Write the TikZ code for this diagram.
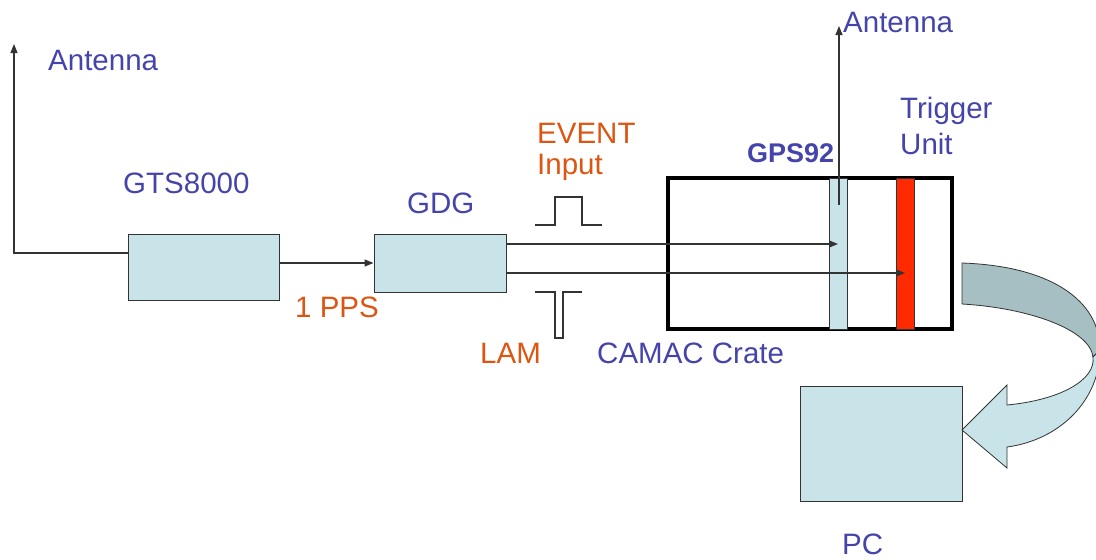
\documentclass[tikz,border=0pt]{standalone}
\usepackage{fontspec}
\setmainfont{Liberation Sans}
\usetikzlibrary{arrows.meta,calc}
\definecolor{boxblue}{HTML}{C8E4E8}
\definecolor{darkband}{HTML}{A6BFC2}
\definecolor{txtblue}{HTML}{4444AA}
\definecolor{txtorange}{HTML}{DD5511}
\definecolor{cardred}{HTML}{FF2A00}
\definecolor{wire}{HTML}{333333}
\begin{document}
\begin{tikzpicture}[x=1pt,y=-1pt,
  unit/.style={draw=wire,line width=1pt,fill=boxblue,inner sep=0pt,minimum width=#1},
  lbl/.style={anchor=base west,inner sep=0pt,font=\fontsize{29.5}{34}\selectfont,text=txtblue},
  olbl/.style={lbl,text=txtorange},
  conn/.style={draw=wire,line width=1.2pt,-{Triangle[length=9pt,width=7pt]}},
  plain/.style={draw=wire,line width=1.2pt}]
\useasboundingbox (0,0) rectangle (1096,560);
% boxes
\node[unit=151pt,minimum height=66pt] (gts) at (203.5,267) {};
\node[unit=132pt,minimum height=58pt] (gdg) at (440,263) {};
\node[draw=black,line width=4pt,inner sep=0pt,minimum width=284pt,minimum height=151pt] (crate) at (810,253.5) {};
\node[unit=18pt,minimum height=151pt] (gps) at (838,253.5) {};
\node[draw=wire,line width=1pt,fill=cardred,inner sep=0pt,minimum width=18pt,minimum height=151pt] (trig) at (905,253.5) {};
\node[unit=162pt,minimum height=115pt] (pc) at (881,443.5) {};
% left antenna
\coordinate (cornerL) at (14,253);
\coordinate (antL) at (14,44);
\draw[conn] (gts.west |- cornerL) -- (cornerL) -- (antL);
% 1PPS
\draw[conn] (gts.east |- gdg) -- (gdg.west);
% signal lines
\draw[conn] ($(gdg.east)+(0,-19)$) -- ($(gps.center)+(0,-9.5)$);
\draw[conn] ($(gdg.east)+(0,10)$) -- ($(trig.center)+(0,19.5)$);
% right antenna
\coordinate (antRb) at (839,205);
\coordinate (antR) at (839,26);
\draw[conn] (antRb) -- (antR);
% pulses
\draw[plain] (535,225) -- (555,225) -- (555,197) -- (582,197) -- (582,225) -- (602,225);
\draw[plain] (535,292) -- (555,292) -- (555,338) -- (563,338) -- (563,292) -- (582,292);
% curved arrow
\begin{scope}
\clip (0,0) rectangle (1096,560);
\filldraw[fill=darkband,draw=wire,line width=0.8pt]
  (962,263) .. controls (1050,266) and (1100,300) .. (1100,350)
  -- (1093,357) .. controls (1090,330) and (1030,308) .. (962,304) -- cycle;
\filldraw[fill=boxblue,draw=wire,line width=0.8pt]
  (1100,350) .. controls (1100,400) and (1060,440) .. (1007,447)
  -- (1007,468) -- (962,430) -- (1007,385) -- (1007,405)
  .. controls (1060,400) and (1096,380) .. (1093,357) -- cycle;
\end{scope}
% labels
\node[lbl] (tAntL) at (48,70) {Antenna};
\node[lbl] (tGTS) at (123,193) {GTS8000};
\node[olbl] (tPPS) at (295,317) {1 PPS};
\node[lbl] (tGDG) at (407,213) {GDG};
\node[olbl] (tEV) at (537,143) {EVENT};
\node[olbl] (tIN) at (537,174) {Input};
\node[olbl] (tLAM) at (480,363) {LAM};
\node[lbl] (tCC) at (597,363) {CAMAC Crate};
\node[lbl,font=\fontsize{27}{32}\selectfont\bfseries] (tGPS) at (747,162) {GPS92};
\node[lbl] (tTR) at (900,118) {Trigger};
\node[lbl] (tUN) at (900,154) {Unit};
\node[lbl] (tAntR) at (843,32) {Antenna};
\node[lbl] (tPC) at (842,554) {PC};
\end{tikzpicture}
\end{document}
